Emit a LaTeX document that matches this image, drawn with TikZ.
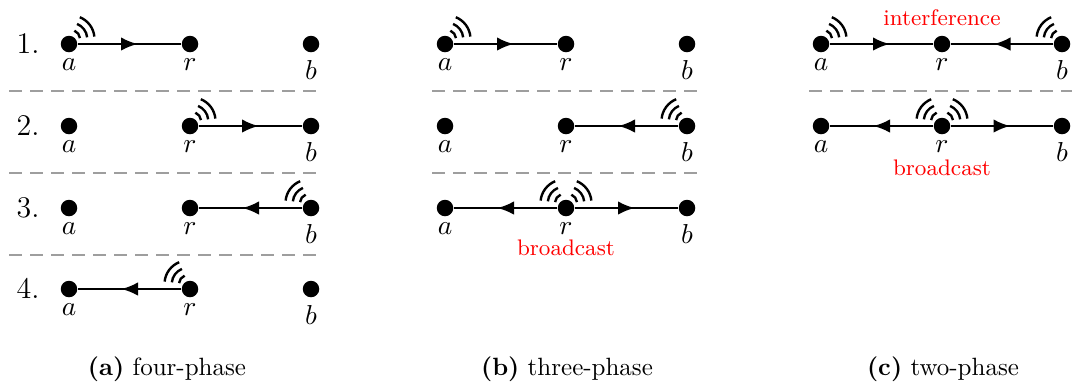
\documentclass[tikz,border=0pt]{standalone}
\usetikzlibrary{arrows.meta,decorations.markings}
\tikzset{
 dot/.style={circle,fill=black,inner sep=0pt,minimum size=6.6pt},
 lab/.style={anchor=base,inner sep=0pt,font=\fontsize{11}{13}\selectfont},
 link/.style={line width=0.8pt,
   decoration={markings, mark=at position 0.5 with {\arrow[xshift=3.2pt]{Latex[length=6.6pt,width=5.4pt]}}},
   postaction={decorate}},
 sig/.style={line width=0.95pt},
 sepline/.style={black!38, line width=0.6pt, dash pattern=on 5.2pt off 3.2pt},
 num/.style={anchor=base,inner sep=0pt,font=\fontsize{12}{14}\selectfont},
 note/.style={anchor=base,inner sep=0pt,text=red,font=\fontsize{9}{11}\selectfont},
 captext/.style={anchor=base,inner sep=0pt,font=\fontsize{10}{12}\selectfont}
}
\newcommand\wavesR[1]{\foreach \rr in {3.6,6.5,9.4}{\draw[sig] ([shift={(2,-5)}]#1.center) ++(6:\rr pt) arc[start angle=6,end angle=68,radius=\rr pt];}}
\newcommand\wavesL[1]{\foreach \rr in {3.6,6.5,9.4}{\draw[sig] ([shift={(-2,-5)}]#1.center) ++(112:\rr pt) arc[start angle=112,end angle=174,radius=\rr pt];}}
\begin{document}
\begin{tikzpicture}[x=0.4pt,y=-0.4pt]
\useasboundingbox (0,0) rectangle (1072,383);
% ---------- panel (a) ----------
\foreach \i/\yy in {1/44,2/126,3/208,4/289}{
  \node[dot] (aa\i) at (69,\yy) {};
  \node[dot] (ar\i) at (190,\yy) {};
  \node[dot] (ab\i) at (311,\yy) {};
  \node[lab] (laa\i) at ([yshift=-10.4pt]aa\i.center) {$a$};
  \node[lab] (lar\i) at ([yshift=-10.4pt]ar\i.center) {$r$};
  \node[lab] (lab\i) at ([yshift=-14pt]ab\i.center) {$b$};
  \node[num] (n\i) at ([xshift=-16.4pt,yshift=-3.6pt]aa\i.center) {\i.};
}
\draw[link] (aa1) -- (ar1); \wavesR{aa1}
\draw[link] (ar2) -- (ab2); \wavesR{ar2}
\draw[link] (ab3) -- (ar3); \wavesL{ab3}
\draw[link] (ar4) -- (aa4); \wavesL{ar4}
\coordinate (sa1) at (9,91);  \coordinate (ea1) at (323,91);
\coordinate (sa2) at (9,173); \coordinate (ea2) at (323,173);
\coordinate (sa3) at (9,255); \coordinate (ea3) at (323,255);
\draw[sepline] (sa1) -- (ea1);
\draw[sepline] (sa2) -- (ea2);
\draw[sepline] (sa3) -- (ea3);
% ---------- panel (b) ----------
\foreach \i/\yy in {1/44,2/126,3/208}{
  \node[dot] (ba\i) at (445,\yy) {};
  \node[dot] (br\i) at (566,\yy) {};
  \node[dot] (bb\i) at (687,\yy) {};
  \node[lab] (lba\i) at ([yshift=-10.4pt]ba\i.center) {$a$};
  \node[lab] (lbr\i) at ([yshift=-10.4pt]br\i.center) {$r$};
  \node[lab] (lbb\i) at ([yshift=-14pt]bb\i.center) {$b$};
}
\draw[link] (ba1) -- (br1); \wavesR{ba1}
\draw[link] (bb2) -- (br2); \wavesL{bb2}
\draw[link] (br3) -- (ba3); \draw[link] (br3) -- (bb3); \wavesL{br3} \wavesR{br3}
\node[note] (bcb) at ([yshift=-18.8pt]br3.center) {broadcast};
\coordinate (sb1) at (432,91);  \coordinate (eb1) at (700,91);
\coordinate (sb2) at (432,173); \coordinate (eb2) at (700,173);
\draw[sepline] (sb1) -- (eb1);
\draw[sepline] (sb2) -- (eb2);
% ---------- panel (c) ----------
\foreach \i/\yy in {1/44,2/126}{
  \node[dot] (ca\i) at (821,\yy) {};
  \node[dot] (cr\i) at (942,\yy) {};
  \node[dot] (cb\i) at (1062,\yy) {};
  \node[lab] (lca\i) at ([yshift=-10.4pt]ca\i.center) {$a$};
  \node[lab] (lcr\i) at ([yshift=-10.4pt]cr\i.center) {$r$};
  \node[lab] (lcb\i) at ([yshift=-14pt]cb\i.center) {$b$};
}
\draw[link] (ca1) -- (cr1); \draw[link] (cb1) -- (cr1); \wavesR{ca1} \wavesL{cb1}
\node[note] (intf) at ([yshift=7.6pt]cr1.center) {interference};
\draw[link] (cr2) -- (ca2); \draw[link] (cr2) -- (cb2); \wavesL{cr2} \wavesR{cr2}
\node[note] (bcc) at ([yshift=-19.6pt]cr2.center) {broadcast};
\coordinate (sc1) at (809,91); \coordinate (ec1) at (1072,91);
\draw[sepline] (sc1) -- (ec1);
% ---------- captions ----------
\node[captext] (capa) at (167,375) {\textbf{(a)} four-phase};
\node[captext] (capb) at (567,375) {\textbf{(b)} three-phase};
\node[captext] (capc) at (943,375) {\textbf{(c)} two-phase};
\end{tikzpicture}
\end{document}
